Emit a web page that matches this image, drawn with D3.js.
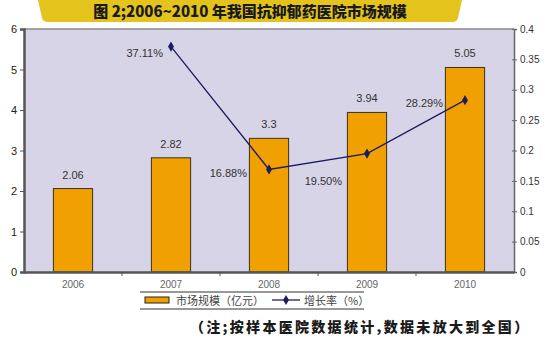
<!DOCTYPE html>
<html><head><meta charset="utf-8">
<script src="https://cdn.jsdelivr.net/npm/d3@7/dist/d3.min.js"></script>
<style>body{margin:0;background:#fff}svg{display:block}</style>
</head><body>
<svg id="c" width="550" height="337"></svg>
<script>
const years = ["2006","2007","2008","2009","2010"];
const marketSize = [2.06, 2.82, 3.3, 3.94, 5.05];
const growthYears = ["2007","2008","2009","2010"];
const growthRate = [0.3711, 0.1688, 0.1950, 0.2829];
const growthLabels = ["37.11%","16.88%","19.50%","28.29%"];
const leftTicks = [0,1,2,3,4,5,6];
const rightTicks = [0,0.05,0.1,0.15,0.2,0.25,0.3,0.35,0.4];
const title = "图 2;2006~2010 年我国抗抑郁药医院市场规模";
const legendLabels = ["市场规模（亿元）","增长率（%）"];
const note = "（注;按样本医院数据统计,数据未放大到全国）";
// label placement offsets (dx, dy) for growth labels
const growthLabelOffsets = [[-8,10],[-22,8],[-25,31],[-22,7]];

const svg = d3.select("#c");
const L = 24, R = 514, T = 29, B = 272;
const x = d3.scaleBand().domain(years).range([L, R]).paddingInner(0.6).paddingOuter(0.3);
const xc = d3.scaleBand().domain(years).range([L, R]);
const y = d3.scaleLinear().domain([0, 6]).range([B, T]);
const y2 = d3.scaleLinear().domain([0, 0.4]).range([B, T]);

// title banner
svg.append("path").attr("d","M38,0 L462,0 L458,18 Q457,22 452,22 L48,22 Q43,22 42,18 Z").attr("fill","#e3c31c");
svg.append("text").attr("x",250).attr("y",17).attr("text-anchor","middle")
  .attr("font-family","'Noto Sans CJK SC',sans-serif").attr("font-weight","900").attr("font-size",15)
  .attr("fill","#1a1a1a").text(title);

// plot bg
svg.append("rect").attr("x",L).attr("y",T).attr("width",R-L).attr("height",B-T).attr("fill","#d8d4e8");
svg.append("line").attr("x1",L).attr("x2",R).attr("y1",T).attr("y2",T).attr("stroke","#8a8a8a").attr("stroke-width",1.5);

// bars
svg.selectAll(".bar").data(marketSize).join("rect")
  .attr("x",(d,i)=>x(years[i])).attr("y",d=>y(d))
  .attr("width",x.bandwidth()).attr("height",d=>B-y(d))
  .attr("fill","#f0a000").attr("stroke","#3a3020").attr("stroke-width",1);
svg.selectAll(".bl").data(marketSize).join("text")
  .attr("x",(d,i)=>x(years[i])+x.bandwidth()/2).attr("y",d=>y(d)-10)
  .attr("text-anchor","middle").attr("font-family","'Liberation Sans',Arial,sans-serif")
  .attr("font-size",11).attr("fill","#333").text(d=>d);

// axes
const fontAx = "'Liberation Sans',Arial,sans-serif";
const ax = svg.append("g").attr("transform",`translate(${L},0)`)
  .call(d3.axisLeft(y).tickValues(leftTicks).tickSize(4).tickPadding(3).tickFormat(d3.format("d")));
ax.select(".domain").attr("stroke","#555").attr("stroke-width",2.5);
ax.selectAll(".tick line").attr("stroke","#555");
ax.selectAll("text").attr("font-family",fontAx).attr("font-size",11).attr("fill","#222");

const ar = svg.append("g").attr("transform",`translate(${R},0)`)
  .call(d3.axisRight(y2).tickValues(rightTicks).tickSize(3).tickPadding(3).tickFormat(d=>d===0?"0":String(d)));
ar.select(".domain").attr("stroke","#666").attr("stroke-width",1.5);
ar.selectAll(".tick line").attr("stroke","#666").attr("x1",-2);
ar.selectAll("text").attr("font-family",fontAx).attr("font-size",10).attr("fill","#333");

const ab = svg.append("g").attr("transform",`translate(0,${B})`)
  .call(d3.axisBottom(xc).tickSize(0).tickPadding(9));
ab.select(".domain").attr("stroke","#555").attr("stroke-width",2.5);
ab.selectAll("text").attr("font-family",fontAx).attr("font-size",10).attr("fill","#666");
// boundary ticks
svg.selectAll(".bt").data(years.slice(1)).join("line")
  .attr("x1",d=>xc(d)).attr("x2",d=>xc(d)).attr("y1",B).attr("y2",B+4).attr("stroke","#555");

// line
const lx = d=>xc(d)+xc.bandwidth()/2;
const line = d3.line().x((d,i)=>lx(growthYears[i])).y(d=>y2(d));
svg.append("path").datum(growthRate).attr("d",line).attr("fill","none").attr("stroke","#1c1c5e").attr("stroke-width",1.3);
const diamond = d3.symbol().type(d3.symbolDiamond).size(30);
svg.selectAll(".pt").data(growthRate).join("path")
  .attr("d",diamond).attr("transform",(d,i)=>`translate(${lx(growthYears[i])},${y2(d)})`).attr("fill","#1c1c5e");
svg.selectAll(".gl").data(growthRate).join("text")
  .attr("x",(d,i)=>lx(growthYears[i])+growthLabelOffsets[i][0])
  .attr("y",(d,i)=>y2(d)+growthLabelOffsets[i][1])
  .attr("text-anchor","end").attr("font-family",fontAx).attr("font-size",11).attr("fill","#333")
  .text((d,i)=>growthLabels[i]);

// legend
const lg = svg.append("g");
lg.append("line").attr("x1",140).attr("x2",364).attr("y1",292).attr("y2",292).attr("stroke","#333");
lg.append("line").attr("x1",140).attr("x2",364).attr("y1",309).attr("y2",309).attr("stroke","#333");
lg.append("rect").attr("x",145).attr("y",297).attr("width",24).attr("height",6).attr("fill","#f0a000").attr("stroke","#222");
lg.append("text").attr("x",176).attr("y",305).attr("font-family","'Noto Sans CJK SC',sans-serif").attr("font-size",11).attr("fill","#444").text(legendLabels[0]);
lg.append("line").attr("x1",272).attr("x2",300).attr("y1",300).attr("y2",300).attr("stroke","#1c1c5e").attr("stroke-width",1.3);
lg.append("path").attr("d",diamond).attr("transform","translate(286,300)").attr("fill","#1c1c5e");
lg.append("text").attr("x",304).attr("y",305).attr("font-family","'Noto Sans CJK SC',sans-serif").attr("font-size",11).attr("fill","#444").text(legendLabels[1]);

// footnote
svg.append("text").attr("x",190).attr("y",332)
  .attr("font-family","'Noto Sans CJK SC',sans-serif").attr("font-weight","900").attr("font-size",14)
  .attr("letter-spacing",2.3).attr("fill","#1a1a1a").text(note);
</script>
</body></html>
